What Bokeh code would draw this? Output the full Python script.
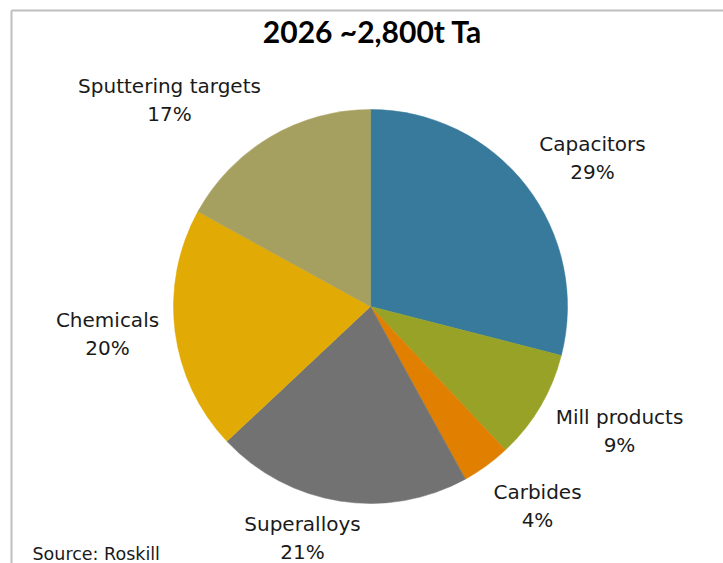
import math
from bokeh.plotting import figure
from bokeh.models import Range1d, ColumnDataSource
from bokeh.core.properties import value
from bokeh.embed import file_html
from bokeh.resources import INLINE

# ---- data ----
title = "2026 ~2,800t Ta"
categories = ["Capacitors", "Mill products", "Carbides", "Superalloys", "Chemicals", "Sputtering targets"]
shares = [29, 9, 4, 21, 20, 17]
colors = ["#377A9C", "#97A226", "#E07F00", "#727272", "#E2AA04", "#A6A060"]
source_note = "Source: Roskill"

# ---- layout (window pixel coordinates; y measured from top) ----
W, H = 723, 563
cx_img, cy_img, R = 370, 306, 197
label_centers = [(592, 157), (619, 430), (537, 505), (302, 537), (107, 333), (169, 99)]
LINE = 28

def Y(img_y):
    return H - img_y

p = figure(width=W, height=H, output_backend="svg", toolbar_location=None,
           x_range=Range1d(0, W), y_range=Range1d(0, H), min_border=0)
p.axis.visible = False
p.grid.visible = False
p.outline_line_color = None
p.background_fill_color = "white"
p.border_fill_color = "white"

# frame (partially visible, like the cropped source)
p.segment(x0=[11, 11], y0=[Y(10), Y(10)], x1=[11, W + 5], y1=[Y(H + 5), Y(10)],
          line_color="#BFBFBF", line_width=2)

# wedges: clockwise from 12 o'clock
total = sum(shares)
starts, ends = [], []
acc = 0.0
for s in shares:
    a0 = math.pi / 2 - 2 * math.pi * acc / total
    acc += s
    a1 = math.pi / 2 - 2 * math.pi * acc / total
    starts.append(a1)
    ends.append(a0)

src = ColumnDataSource(dict(x=[cx_img] * len(shares), y=[Y(cy_img)] * len(shares),
                            start=starts, end=ends, color=colors))
p.wedge(x="x", y="y", radius=R, radius_units="screen", start_angle="start", end_angle="end",
        fill_color="color", line_color="color", line_width=0.5, source=src)

# labels
lx, ly, ltxt = [], [], []
for (x, y), cat, s in zip(label_centers, categories, shares):
    lx += [x, x]
    ly += [Y(y - LINE / 2), Y(y + LINE / 2)]
    ltxt += [cat, f"{s}%"]
p.text(x=lx, y=ly, text=ltxt, text_align="center", text_baseline="middle",
       text_font=value("DejaVu Sans"), text_font_size="20px", text_color="#1a1a1a")

# title
p.text(x=[372], y=[Y(30)], text=[title], text_align="center", text_baseline="middle",
       text_font=value("Lato"), text_font_style="bold", text_font_size="30px", text_color="black")

# source
p.text(x=[32], y=[Y(553)], text=[source_note], text_align="left", text_baseline="middle",
       text_font=value("DejaVu Sans"), text_font_size="17.5px", text_color="#1a1a1a")

open("out.html", "w").write(file_html(p, INLINE))
